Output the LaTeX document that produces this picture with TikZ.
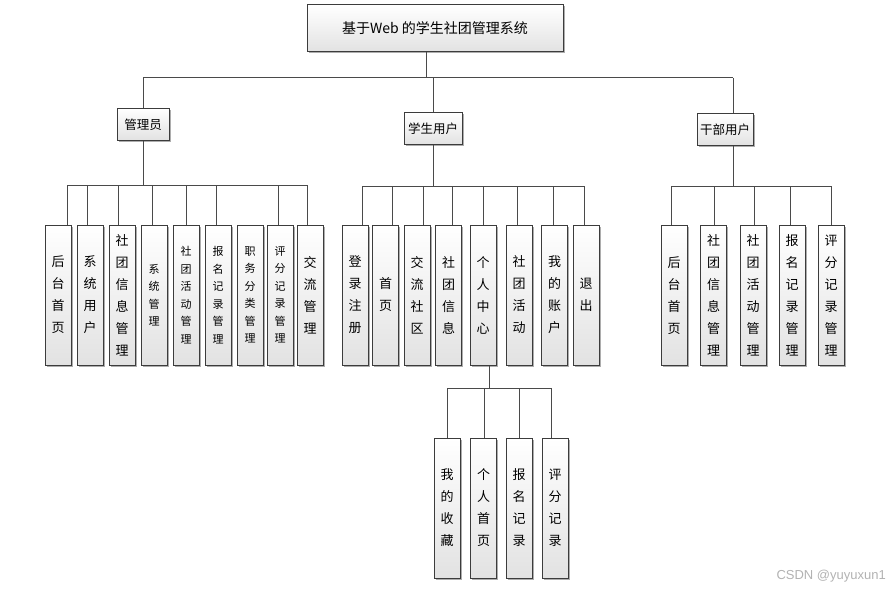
\documentclass[tikz,border=0pt]{standalone}
\usepackage{fontspec}
\setmainfont{Noto Sans CJK SC}
\newfontfamily\wmfont{Liberation Sans}
\usetikzlibrary{shadows}
\definecolor{boxline}{HTML}{3C3C3C}
\definecolor{boxbot}{HTML}{E2E2E2}
\definecolor{connline}{HTML}{4A4A4A}
\tikzset{
  box/.style={draw=boxline, line width=1pt, top color=white, bottom color=boxbot, inner sep=0pt,
    drop shadow={shadow xshift=1.5pt, shadow yshift=-1.5pt, fill=black!40, opacity=0.8}},
  leaf/.style={box, minimum width=26pt, minimum height=140pt, align=center, font=\fontsize{13}{22}\selectfont},
  leafs/.style={leaf, font=\fontsize{11}{17.5}\selectfont},
  mid/.style={box, minimum height=32pt, font=\fontsize{12.5}{15}\selectfont},
  conn/.style={draw=connline, line width=1pt},
}
\begin{document}
\begin{tikzpicture}[x=1pt,y=-1pt]
\useasboundingbox (0,0) rectangle (889,591);

% title
\node[box, minimum width=256pt, minimum height=47pt, font=\fontsize{14}{17}\selectfont] (t) at (435,28.5) {基于Web 的学生社团管理系统};

% middle level
\node[mid, minimum width=52pt] (m1) at (143,124.5) {管理员};
\node[mid, minimum width=58pt] (m2) at (433,129) {学生用户};
\node[mid, minimum width=56pt] (m3) at (725,129.5) {干部用户};

% left leaves
\node[leaf]  (l1) at (58,295)  {后\\台\\首\\页};
\node[leaf]  (l2) at (90,295)  {系\\统\\用\\户};
\node[leaf]  (l3) at (122,295) {社\\团\\信\\息\\管\\理};
\node[leafs] (l4) at (154,295) {系\\统\\管\\理};
\node[leafs] (l5) at (186,295) {社\\团\\活\\动\\管\\理};
\node[leafs] (l6) at (218,295) {报\\名\\记\\录\\管\\理};
\node[leafs] (l7) at (250,295) {职\\务\\分\\类\\管\\理};
\node[leafs] (l8) at (280,295) {评\\分\\记\\录\\管\\理};
\node[leaf]  (l9) at (310,295) {交\\流\\管\\理};

% middle leaves
\node[leaf] (s1) at (355,295)   {登\\录\\注\\册};
\node[leaf] (s2) at (385.5,295) {首\\页};
\node[leaf] (s3) at (417,295)   {交\\流\\社\\区};
\node[leaf] (s4) at (448.5,295) {社\\团\\信\\息};
\node[leaf] (s5) at (483,295)   {个\\人\\中\\心};
\node[leaf] (s6) at (519,295)   {社\\团\\活\\动};
\node[leaf] (s7) at (554.5,295) {我\\的\\账\\户};
\node[leaf] (s8) at (586,295)   {退\\出};

% sub leaves of 个人中心
\node[leaf] (p1) at (447,508)   {我\\的\\收\\藏};
\node[leaf] (p2) at (483.5,508) {个\\人\\首\\页};
\node[leaf] (p3) at (519,508)   {报\\名\\记\\录};
\node[leaf] (p4) at (555,508)   {评\\分\\记\\录};

% right leaves
\node[leaf] (r1) at (674,295.5)   {后\\台\\首\\页};
\node[leaf] (r2) at (713.5,295.5) {社\\团\\信\\息\\管\\理};
\node[leaf] (r3) at (753,295.5)   {社\\团\\活\\动\\管\\理};
\node[leaf] (r4) at (792,295.5)   {报\\名\\记\\录\\管\\理};
\node[leaf] (r5) at (831,295.5)   {评\\分\\记\\录\\管\\理};

% ---- connectors: top level
\coordinate (tb) at (426,78);
\coordinate (b1) at (143,78);
\coordinate (b2) at (433,78);
\coordinate (b3) at (733,78);
\draw[conn] (tb |- t.south) -- (tb);
\draw[conn] (b1) -- (b3);
\draw[conn] (b1) -- (b1 |- m1.north);
\draw[conn] (b2) -- (b2 |- m2.north);
\draw[conn] (b3) -- (b3 |- m3.north);

% left group
\coordinate (g1) at (143,185);
\coordinate (lc1) at (67,185);
\coordinate (lc2) at (87,185);
\coordinate (lc3) at (118,185);
\coordinate (lc4) at (152,185);
\coordinate (lc5) at (186,185);
\coordinate (lc6) at (216,185);
\coordinate (lc8) at (278,185);
\coordinate (lc9) at (307,185);
\draw[conn] (g1 |- m1.south) -- (g1);
\draw[conn] (lc1) -- (lc9);
\foreach \i in {1,2,3,4,5,6,8,9} \draw[conn] (lc\i) -- (lc\i |- l\i.north);

% middle group
\coordinate (g2) at (433,186);
\coordinate (sc1) at (362,186);
\coordinate (sc2) at (392,186);
\coordinate (sc3) at (423,186);
\coordinate (sc4) at (452,186);
\coordinate (sc5) at (483,186);
\coordinate (sc6) at (517,186);
\coordinate (sc7) at (553,186);
\coordinate (sc8) at (584,186);
\draw[conn] (g2 |- m2.south) -- (g2);
\draw[conn] (sc1) -- (sc8);
\foreach \i in {1,...,8} \draw[conn] (sc\i) -- (sc\i |- s\i.north);

% sub group
\coordinate (g4) at (489,388);
\coordinate (pc1) at (447,388);
\coordinate (pc2) at (484,388);
\coordinate (pc3) at (519,388);
\coordinate (pc4) at (551,388);
\draw[conn] (g4 |- s5.south) -- (g4);
\draw[conn] (pc1) -- (pc4);
\foreach \i in {1,...,4} \draw[conn] (pc\i) -- (pc\i |- p\i.north);

% right group
\coordinate (g3) at (733,186);
\coordinate (rc1) at (671,186);
\coordinate (rc2) at (714,186);
\coordinate (rc3) at (754,186);
\coordinate (rc4) at (790,186);
\coordinate (rc5) at (831,186);
\draw[conn] (g3 |- m3.south) -- (g3);
\draw[conn] (rc1) -- (rc5);
\foreach \i in {1,...,5} \draw[conn] (rc\i) -- (rc\i |- r\i.north);

% watermark
\node[text=black!30, font=\wmfont\fontsize{13}{15}\selectfont, anchor=east, inner sep=0pt] (wm) at (886,576) {CSDN @yuyuxun1};
\end{tikzpicture}
\end{document}
